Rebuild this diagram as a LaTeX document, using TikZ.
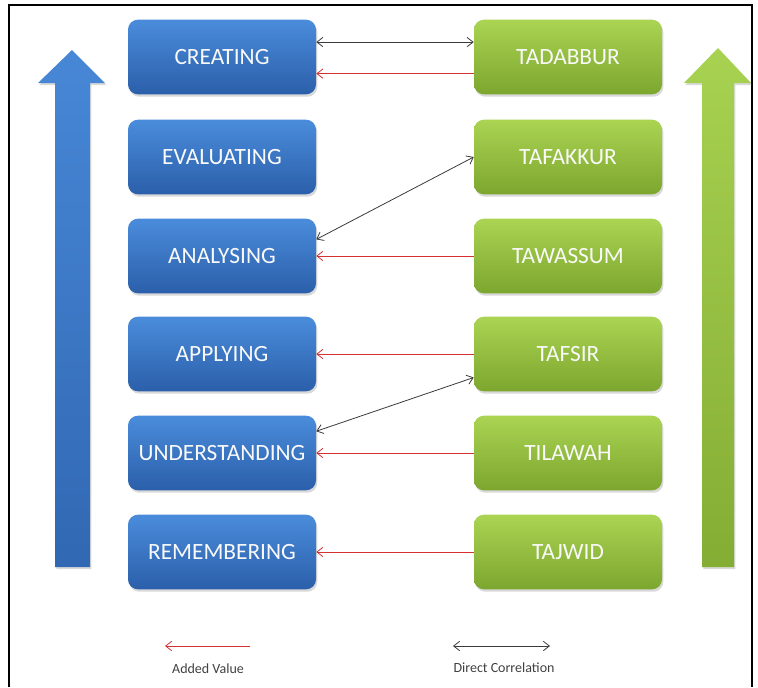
\documentclass[tikz,border=0pt]{standalone}
\usepackage{fontspec}
\setmainfont{Carlito}
\usetikzlibrary{arrows.meta,shadows}

\definecolor{bloomtop}{HTML}{4A8CDB}
\definecolor{bloombot}{HTML}{2B5FAA}
\definecolor{qurantop}{HTML}{AAD452}
\definecolor{quranbot}{HTML}{7DA62F}
\definecolor{addred}{HTML}{D63030}
\definecolor{corrgray}{HTML}{3A3A3A}

\tikzset{
  stage/.style={rounded corners=7.5pt,minimum width=141pt,minimum height=56pt,
    text=white!95!gray,font=\fontsize{17.5}{20}\selectfont,
    drop shadow={opacity=0.3,shadow xshift=1pt,shadow yshift=-1.8pt}},
  bloom/.style={stage,top color=bloomtop,bottom color=bloombot},
  quran/.style={stage,top color=qurantop,bottom color=quranbot},
  legendtext/.style={text=black!75,font=\fontsize{10.5}{12}\selectfont}
}

\begin{document}
\begin{tikzpicture}[x=0.75pt,y=-0.75pt,>={Straight Barb[length=4.5pt,width=7pt]}]
\useasboundingbox (0,0) rectangle (758,687);

% frame
\draw [line width=1.8pt] (9,687) -- (9,5) -- (752,5) -- (752,687);

% big arrows
\path [top color=bloomtop!90!bloombot,bottom color=bloombot!80!bloomtop,
       drop shadow={opacity=0.3,shadow xshift=1pt,shadow yshift=-1.5pt}]
  (55,567) -- (55,83) -- (38,83) -- (72,50) -- (105,83) -- (90,83) -- (90,567) -- cycle;
\path [top color=qurantop!95!quranbot,bottom color=quranbot!85!qurantop,
       drop shadow={opacity=0.3,shadow xshift=1pt,shadow yshift=-1.5pt}]
  (702,567) -- (702,83) -- (684,83) -- (718,48) -- (751,83) -- (734,83) -- (734,567) -- cycle;

\begin{scope}[every node/.style={bloom}]
  \node (CRE) at (222,57) {CREATING};
  \node (EVA) at (222,157) {EVALUATING};
  \node (ANA) at (222,256) {ANALYSING};
  \node (APP) at (222,354) {APPLYING};
  \node (UND) at (222,453) {UNDERSTANDING};
  \node (REM) at (222,552) {REMEMBERING};
\end{scope}

\begin{scope}[every node/.style={quran}]
  \node (TAD) at (568,57) {TADABBUR};
  \node (TAF) at (568,157) {TAFAKKUR};
  \node (TAW) at (568,256) {TAWASSUM};
  \node (TFS) at (568,354) {TAFSIR};
  \node (TIL) at (568,453) {TILAWAH};
  \node (TAJ) at (568,552) {TAJWID};
\end{scope}

% direct correlation
\begin{scope}[every edge/.style={draw=corrgray,line width=0.6pt}]
  \path [<->] (CRE.9) edge (TAD.171);
  \path [<->] (ANA.10) edge (TAF.west);
  \path [<->] (UND.13) edge (TFS.194);
\end{scope}

% added value
\begin{scope}[every edge/.style={draw=addred,line width=0.6pt}]
  \path [->] (TAD.190) edge (CRE.-10);
  \path [->] (TAW.west) edge (ANA.east);
  \path [->] (TFS.west) edge (APP.east);
  \path [->] (TIL.west) edge (UND.east);
  \path [->] (TAJ.west) edge (REM.east);
\end{scope}

% legend
\coordinate (addA) at (250,646);
\coordinate (addB) at (165,646);
\coordinate (corA) at (453,646);
\coordinate (corB) at (550,646);
\path [->] (addA) edge [draw=addred,line width=0.6pt] (addB);
\path [<->] (corA) edge [draw=corrgray,line width=0.6pt] (corB);
\node [legendtext] (addlabel) at (208,669) {Added Value};
\node [legendtext] (corlabel) at (504,668) {Direct Correlation};
\end{tikzpicture}
\end{document}
